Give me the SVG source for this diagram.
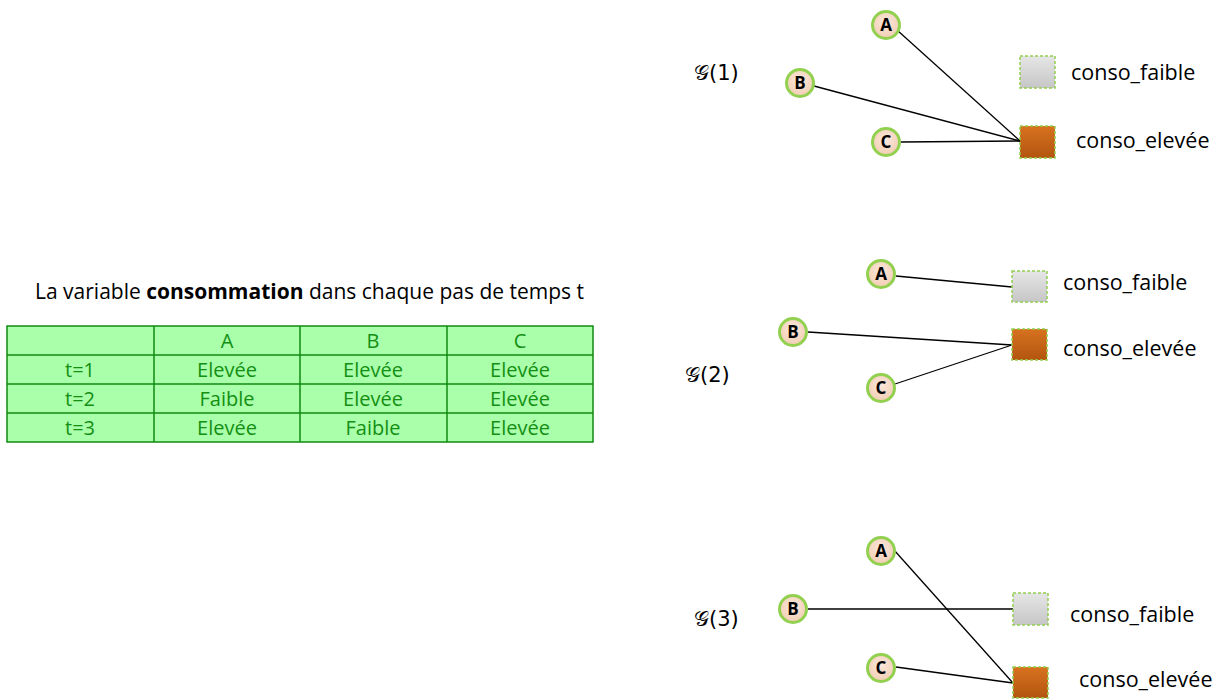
<svg xmlns="http://www.w3.org/2000/svg" width="1225" height="700" viewBox="0 0 1225 700">
<defs>
<radialGradient id="peach" cx="50%" cy="40%" r="60%">
<stop offset="0" stop-color="#fbe8dc"/>
<stop offset="1" stop-color="#f2cdb2"/>
</radialGradient>
<linearGradient id="grey" x1="0" y1="0" x2="0" y2="1">
<stop offset="0" stop-color="#e6e6e6"/>
<stop offset="1" stop-color="#c6c6c6"/>
</linearGradient>
<linearGradient id="orange" x1="0" y1="0" x2="0" y2="1">
<stop offset="0" stop-color="#d7721f"/>
<stop offset="1" stop-color="#b35510"/>
</linearGradient>
</defs>
<style>
.node circle{fill:url(#peach);stroke:#92d050;stroke-width:3}
.node text{font-family:"Open Sans","Liberation Sans",sans-serif;font-weight:bold;font-size:17px;fill:#000;text-anchor:middle}
.sq{stroke:#92d050;stroke-width:1.5;stroke-dasharray:3 2}
.faible{fill:url(#grey)}
.elevee{fill:url(#orange)}
.lbl{font-family:"Open Sans","Liberation Sans",sans-serif;font-size:21.5px;fill:#000}
.g{font-family:"DejaVu Sans","Noto Sans",sans-serif;font-size:21px;fill:#000}
.edge{stroke:#000;stroke-width:1.3;fill:none}
.tbl rect{fill:#aaffaa;stroke:#108a10;stroke-width:1.5}
.tbl line{stroke:#108a10;stroke-width:1.5}
.tbl text{font-family:"Open Sans","Liberation Sans",sans-serif;font-size:20px;fill:#138f13;text-anchor:middle}
.title{font-family:"Open Sans","Liberation Sans",sans-serif;font-size:21px;fill:#000}
</style>

<g id="connectors">
<line class="edge" x1="897" y1="30" x2="1020" y2="141"/>
<line class="edge" x1="814" y1="86" x2="1020" y2="141"/>
<line class="edge" x1="901" y1="142" x2="1020" y2="141"/>
<line class="edge" x1="896" y1="276" x2="1012" y2="287"/>
<line class="edge" x1="808" y1="332" x2="1012" y2="345"/>
<line class="edge" x1="895" y1="384" x2="1012" y2="345"/>
<line class="edge" x1="894" y1="550" x2="1013" y2="683"/>
<line class="edge" x1="808" y1="609" x2="1013" y2="609"/>
<line class="edge" x1="896" y1="667" x2="1013" y2="683"/>
</g>

<g id="title">
<text class="title" x="35" y="299">La variable <tspan font-weight="bold">consommation</tspan> dans chaque pas de temps t</text>
</g>

<g id="table" class="tbl">
<rect x="7" y="326" width="586" height="116"/>
<line x1="7" y1="355" x2="593" y2="355"/>
<line x1="7" y1="384" x2="593" y2="384"/>
<line x1="7" y1="413" x2="593" y2="413"/>
<line x1="154" y1="326" x2="154" y2="442"/>
<line x1="300" y1="326" x2="300" y2="442"/>
<line x1="447" y1="326" x2="447" y2="442"/>
<text x="227" y="348">A</text><text x="373" y="348">B</text><text x="520" y="348">C</text>
<text x="80" y="377">t=1</text><text x="227" y="377">Elevée</text><text x="373" y="377">Elevée</text><text x="520" y="377">Elevée</text>
<text x="80" y="406">t=2</text><text x="227" y="406">Faible</text><text x="373" y="406">Elevée</text><text x="520" y="406">Elevée</text>
<text x="80" y="435">t=3</text><text x="227" y="435">Elevée</text><text x="373" y="435">Faible</text><text x="520" y="435">Elevée</text>
</g>

<g id="graph1-label"><text class="g" x="694" y="80">𝒢(1)</text></g>
<g id="g1-A" class="node"><circle cx="886" cy="25" r="13.5"/><text x="886" y="31">A</text></g>
<g id="g1-B" class="node"><circle cx="800" cy="83" r="13.5"/><text x="800" y="89">B</text></g>
<g id="g1-C" class="node"><circle cx="886" cy="142" r="13.5"/><text x="886" y="148">C</text></g>
<g id="g1-faible"><rect class="sq faible" x="1020" y="56" width="35" height="32"/><text class="lbl" x="1071" y="80">conso_faible</text></g>
<g id="g1-elevee"><rect class="sq elevee" x="1020" y="126" width="35" height="32"/><text class="lbl" x="1076" y="148">conso_elevée</text></g>

<g id="graph2-label"><text class="g" x="685" y="382">𝒢(2)</text></g>
<g id="g2-A" class="node"><circle cx="881" cy="274" r="13.5"/><text x="881" y="280">A</text></g>
<g id="g2-B" class="node"><circle cx="793" cy="332" r="13.5"/><text x="793" y="338">B</text></g>
<g id="g2-C" class="node"><circle cx="881" cy="388" r="13.5"/><text x="881" y="394">C</text></g>
<g id="g2-faible"><rect class="sq faible" x="1012" y="271" width="35" height="31"/><text class="lbl" x="1063" y="290">conso_faible</text></g>
<g id="g2-elevee"><rect class="sq elevee" x="1012" y="329" width="35" height="31"/><text class="lbl" x="1063" y="356">conso_elevée</text></g>

<g id="graph3-label"><text class="g" x="694" y="626">𝒢(3)</text></g>
<g id="g3-A" class="node"><circle cx="881" cy="551" r="13.5"/><text x="881" y="557">A</text></g>
<g id="g3-B" class="node"><circle cx="793" cy="609" r="13.5"/><text x="793" y="615">B</text></g>
<g id="g3-C" class="node"><circle cx="881" cy="668" r="13.5"/><text x="881" y="674">C</text></g>
<g id="g3-faible"><rect class="sq faible" x="1013" y="593" width="35" height="32"/><text class="lbl" x="1070" y="622">conso_faible</text></g>
<g id="g3-elevee"><rect class="sq elevee" x="1013" y="667" width="35" height="31"/><text class="lbl" x="1079" y="687">conso_elevée</text></g>
</svg>
